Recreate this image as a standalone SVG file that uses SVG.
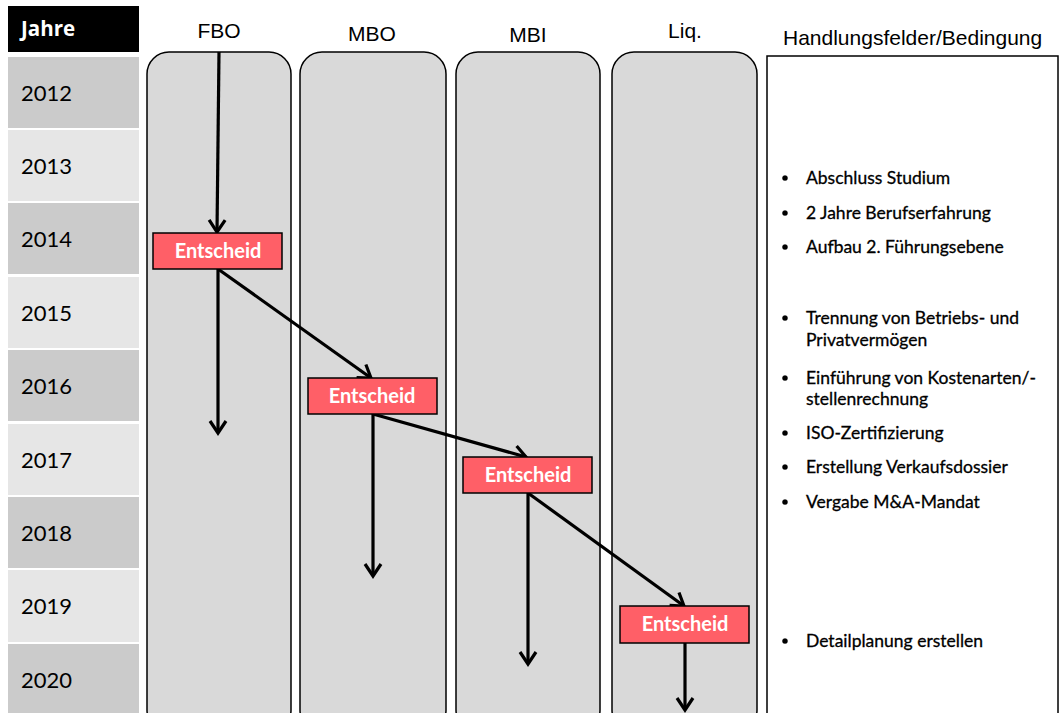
<svg xmlns="http://www.w3.org/2000/svg" width="1059" height="713" viewBox="0 0 1059 713">
<defs>
<marker id="arr" viewBox="0 0 20 20" refX="17" refY="10" markerWidth="20" markerHeight="20" markerUnits="userSpaceOnUse" orient="auto">
<path d="M5,2 L17,10 L5,18" fill="none" stroke="#000" stroke-width="3.2" stroke-linejoin="miter"/>
</marker>
<style>
.yr{font-family:Lato,"Open Sans",sans-serif;font-size:22px;fill:#000}
.dk{fill:#cbcbcb}
.lt{fill:#e6e6e6}
.col{fill:#d9d9d9;stroke:#000;stroke-width:1.5}
.hd{font-family:"Liberation Sans",Arial,sans-serif;font-size:21px;fill:#000}
.ent rect{fill:#ff5f67;stroke:#000;stroke-width:1.5}
.ent text{font-family:Lato,"Open Sans",sans-serif;font-weight:bold;font-size:20px;fill:#fff;text-anchor:middle}
.ln{stroke:#000;stroke-width:3.2;fill:none;marker-end:url(#arr)}
.bl{font-family:Lato,"Open Sans",sans-serif;font-size:17.5px;fill:#000;stroke:#000;stroke-width:0.3}
</style>
</defs>
<rect width="1059" height="713" fill="#fff"/>
<g id="years">
<rect x="8" y="6" width="131" height="46" fill="#000"/>
<text x="21" y="36" font-family="'Open Sans',Lato,sans-serif" font-weight="bold" font-size="20.5" fill="#fff">Jahre</text>
<rect class="dk" x="8" y="57" width="131" height="71"/>
<rect class="lt" x="8" y="130" width="131" height="71"/>
<rect class="dk" x="8" y="203" width="131" height="71"/>
<rect class="lt" x="8" y="277" width="131" height="71"/>
<rect class="dk" x="8" y="350" width="131" height="71"/>
<rect class="lt" x="8" y="424" width="131" height="71"/>
<rect class="dk" x="8" y="497" width="131" height="71"/>
<rect class="lt" x="8" y="570" width="131" height="72"/>
<rect class="dk" x="8" y="644" width="131" height="72"/>
<text class="yr" x="21" y="101">2012</text>
<text class="yr" x="21" y="174">2013</text>
<text class="yr" x="21" y="247">2014</text>
<text class="yr" x="21" y="321">2015</text>
<text class="yr" x="21" y="394">2016</text>
<text class="yr" x="21" y="468">2017</text>
<text class="yr" x="21" y="541">2018</text>
<text class="yr" x="21" y="614">2019</text>
<text class="yr" x="21" y="688">2020</text>
</g>
<g id="col-fbo">
<rect class="col" x="147" y="52" width="144" height="680" rx="22"/>
<text class="hd" x="219" y="38" text-anchor="middle">FBO</text>
</g>
<g id="col-mbo">
<rect class="col" x="300" y="52" width="146" height="680" rx="22"/>
<text class="hd" x="372" y="41" text-anchor="middle">MBO</text>
</g>
<g id="col-mbi">
<rect class="col" x="456" y="52" width="144" height="680" rx="22"/>
<text class="hd" x="528" y="42" text-anchor="middle">MBI</text>
</g>
<g id="col-liq">
<rect class="col" x="612" y="52" width="145" height="680" rx="22"/>
<text class="hd" x="685" y="38" text-anchor="middle">Liq.</text>
</g>
<g id="connectors">
<line class="ln" x1="219" y1="52" x2="217" y2="232"/>
<line class="ln" x1="218" y1="269" x2="218" y2="433"/>
<line class="ln" x1="218" y1="269" x2="371" y2="378"/>
<line class="ln" x1="373" y1="414" x2="373" y2="576"/>
<line class="ln" x1="373" y1="414" x2="526" y2="457"/>
<line class="ln" x1="528" y1="493" x2="528" y2="664"/>
<line class="ln" x1="528" y1="493" x2="684" y2="606"/>
<line class="ln" x1="685" y1="643" x2="685" y2="710"/>
</g>
<g id="ent1" class="ent">
<rect x="153" y="233" width="129" height="36"/>
<text x="218" y="258">Entscheid</text>
</g>
<g id="ent2" class="ent">
<rect x="308" y="378" width="129" height="36"/>
<text x="372" y="403">Entscheid</text>
</g>
<g id="ent3" class="ent">
<rect x="463" y="457" width="129" height="36"/>
<text x="528" y="482">Entscheid</text>
</g>
<g id="ent4" class="ent">
<rect x="620" y="606" width="129" height="37"/>
<text x="685" y="631">Entscheid</text>
</g>
<g id="handlungsfelder">
<text class="hd" x="783" y="45" font-size="21.8">Handlungsfelder/Bedingung</text>
<rect x="767" y="56" width="291" height="680" fill="#fff" stroke="#000" stroke-width="1.5"/>
<g class="bl">
<circle cx="785" cy="178" r="2.6"/><text x="806" y="184">Abschluss Studium</text>
<circle cx="785" cy="213" r="2.6"/><text x="806" y="219">2 Jahre Berufserfahrung</text>
<circle cx="785" cy="247" r="2.6"/><text x="806" y="253">Aufbau 2. Führungsebene</text>
<circle cx="785" cy="318" r="2.6"/><text x="806" y="324">Trennung von Betriebs- und</text>
<text x="806" y="346">Privatvermögen</text>
<circle cx="785" cy="378" r="2.6"/><text x="806" y="384">Einführung von Kostenarten/-</text>
<text x="806" y="405">stellenrechnung</text>
<circle cx="785" cy="433" r="2.6"/><text x="806" y="439">ISO-Zertifizierung</text>
<circle cx="785" cy="467" r="2.6"/><text x="806" y="473">Erstellung Verkaufsdossier</text>
<circle cx="785" cy="502" r="2.6"/><text x="806" y="508">Vergabe M&amp;A-Mandat</text>
<circle cx="785" cy="641" r="2.6"/><text x="806" y="647">Detailplanung erstellen</text>
</g>
</g>
</svg>
